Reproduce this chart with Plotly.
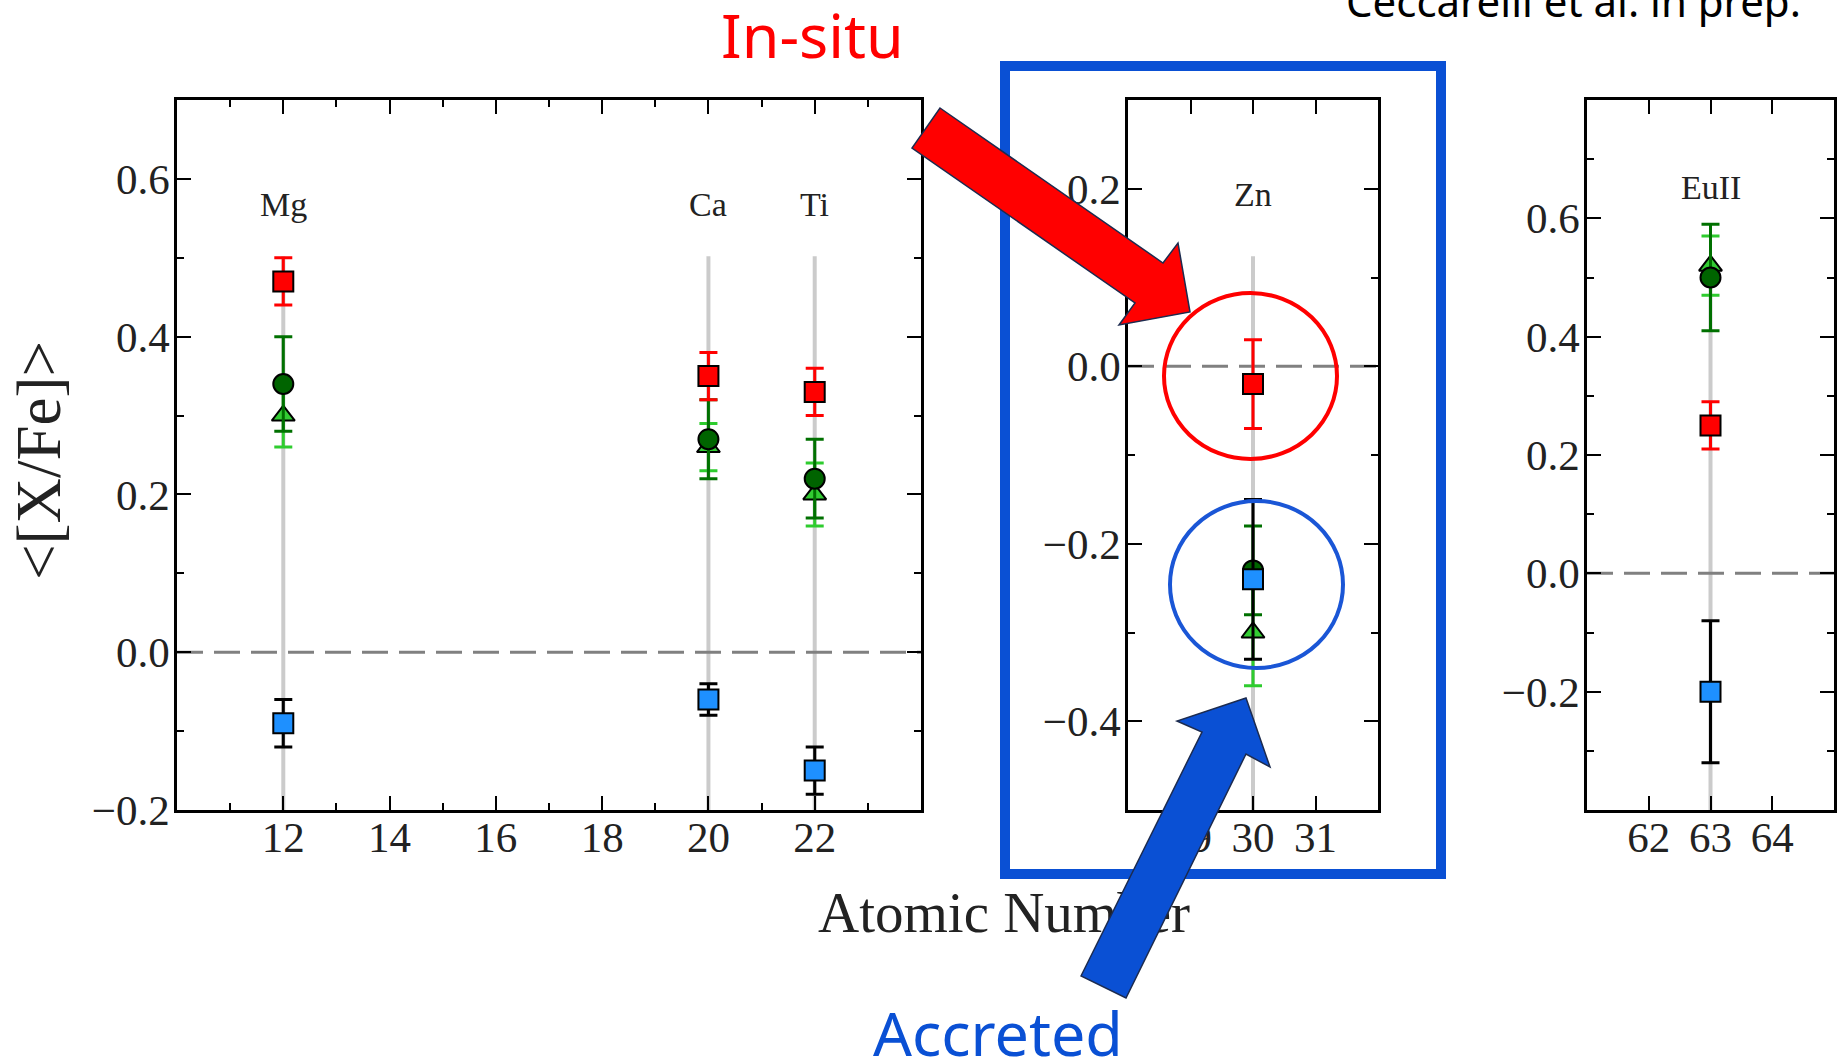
import plotly.graph_objects as go

# ---------------- data ----------------
Z = [12, 20, 22, 30, 63]
elements = ["Mg", "Ca", "Ti", "Zn", "EuII"]
panel_of = [0, 0, 0, 1, 2]

insitu_sq = [0.47, 0.35, 0.33, -0.02, 0.25]
insitu_sq_err = [0.03, 0.03, 0.03, 0.05, 0.04]

green_circ = [0.34, 0.27, 0.22, -0.23, 0.50]
green_circ_err = [0.06, 0.05, 0.05, 0.05, 0.09]

green_tri = [0.30, 0.26, 0.20, -0.30, 0.52]
green_tri_err = [0.04, 0.03, 0.04, 0.06, 0.05]

accreted_sq = [-0.09, -0.06, -0.15, -0.24, -0.20]
accreted_sq_err = [0.03, 0.02, 0.03, 0.09, 0.12]

# ---------------- layout config ----------------
W, H = 1847, 1059
TOP, BOT = 100, 810
panels = [
    dict(px=(177, 921), xr=[10, 24], xt=[12, 14, 16, 18, 20, 22], xm=[11, 13, 15, 17, 19, 21, 23],
         yr=[-0.2, 0.7], yt=[-0.2, 0.0, 0.2, 0.4, 0.6], ym=[-0.1, 0.1, 0.3, 0.5], lab=0.882),
    dict(px=(1128, 1378), xr=[28, 32], xt=[29, 30, 31], xm=[],
         yr=[-0.5, 0.3], yt=[-0.4, -0.2, 0.0, 0.2], ym=[-0.3, -0.1, 0.1], lab=0.896),
    dict(px=(1587, 1834), xr=[61, 65], xt=[62, 63, 64], xm=[],
         yr=[-0.4, 0.8], yt=[-0.2, 0.0, 0.2, 0.4, 0.6], ym=[-0.3, -0.1, 0.1, 0.3, 0.5, 0.7], lab=0.905),
]

SERIF = "Liberation Serif"
TXT = "#222222"
series = [
    dict(y=green_tri, e=green_tri_err, sym="triangle-up", fill="#33cc33", ecol="#2ecc2e"),
    dict(y=green_circ, e=green_circ_err, sym="circle", fill="#006400", ecol="#007000"),
    dict(y=insitu_sq, e=insitu_sq_err, sym="square", fill="#ff0000", ecol="#ff0000"),
    dict(y=accreted_sq, e=accreted_sq_err, sym="square", fill="#1e90ff", ecol="#000000"),
]

fig = go.Figure()
shapes = []
annotations = []
layout = {}

for p, cfg in enumerate(panels):
    ax = "" if p == 0 else str(p + 1)
    xa, ya = "x" + ax, "y" + ax
    idx = [i for i in range(len(Z)) if panel_of[i] == p]
    for s in series:
        fig.add_trace(go.Scatter(
            x=[Z[i] for i in idx], y=[s["y"][i] for i in idx],
            mode="markers", xaxis=xa, yaxis=ya, showlegend=False,
            marker=dict(symbol=s["sym"], size=20, color=s["fill"],
                        line=dict(color="black", width=2)),
            error_y=dict(type="data", array=[s["e"][i] for i in idx],
                         color=s["ecol"], thickness=3, width=9),
            cliponaxis=False,
        ))
    # gray vertical guide lines
    for i in idx:
        shapes.append(dict(type="line", xref=xa, yref=ya + " domain", x0=Z[i], x1=Z[i],
                           y0=0, y1=0.78, layer="below",
                           line=dict(color="rgba(185,185,185,0.75)", width=4)))
        annotations.append(dict(xref=xa, yref=ya + " domain", x=Z[i], y=cfg["lab"],
                                text=elements[i], showarrow=False,
                                font=dict(family=SERIF, size=34, color=TXT)))
    # dashed zero line
    shapes.append(dict(type="line", xref=xa + " domain", yref=ya, x0=0, x1=1, y0=0, y1=0,
                       layer="below", line=dict(color="#808080", width=3, dash="26px,11px")))

    dom_x = [cfg["px"][0] / W, cfg["px"][1] / W]
    dom_y = [1 - BOT / H, 1 - TOP / H]
    common = dict(showline=True, linecolor="black", linewidth=2.5, mirror="allticks",
                  ticks="inside", ticklen=14, tickwidth=2, tickcolor="black",
                  showgrid=False, zeroline=False, fixedrange=True, automargin=False,
                  tickfont=dict(family=SERIF, size=43, color=TXT))
    layout["xaxis" + ax] = dict(common, domain=dom_x, range=cfg["xr"], anchor=ya,
                                tickmode="array", tickvals=cfg["xt"],
                                ticktext=[str(v) for v in cfg["xt"]], ticklabelstandoff=-12,
                                minor=dict(tickmode="array", tickvals=cfg["xm"], ticks="inside",
                                           ticklen=7, tickwidth=2, tickcolor="black",
                                           showgrid=False))
    layout["yaxis" + ax] = dict(common, domain=dom_y, range=cfg["yr"], anchor=xa,
                                tickmode="array", tickvals=cfg["yt"], tickformat=".1f",
                                ticklabelstandoff=-4,
                                minor=dict(tickmode="array", tickvals=cfg["ym"], ticks="inside",
                                           ticklen=7, tickwidth=2, tickcolor="black",
                                           showgrid=False))

# overlay pixel-coordinate axes for the decorations
layout["xaxis4"] = dict(domain=[0, 1], range=[0, W], visible=False, fixedrange=True,
                        anchor="y4", automargin=False)
layout["yaxis4"] = dict(domain=[0, 1], range=[H, 0], visible=False, fixedrange=True,
                        anchor="x4", automargin=False)

fig.add_trace(go.Scatter(x=[1004], y=[918], mode="text", text=["Atomic Number"],
                         textfont=dict(family=SERIF, size=57, color=TXT),
                         xaxis="x4", yaxis="y4", showlegend=False, hoverinfo="skip"))

BLUE = "#0a50d4"
NAVY = "#1c2b4f"
shapes += [
    dict(type="rect", xref="x4", yref="y4", x0=1005, x1=1441, y0=66, y1=874,
         line=dict(color=BLUE, width=10), layer="above"),
    dict(type="circle", xref="x4", yref="y4", x0=1164, x1=1337, y0=293, y1=459,
         line=dict(color="#ff0000", width=4), layer="above"),
    dict(type="circle", xref="x4", yref="y4", x0=1170, x1=1343, y0=501, y1=668,
         line=dict(color="#1a56d6", width=4), layer="above"),
    dict(type="path", xref="x4", yref="y4",
         path="M940,108 L1163,263 L1178,243 L1190,312 L1119,325 L1135,303 L912,148 Z",
         fillcolor="#ff0000", line=dict(color=NAVY, width=1.5), layer="above"),
    dict(type="path", xref="x4", yref="y4",
         path="M1081,976 L1202,732 L1177,721 L1246,698 L1270,767 L1246,754 L1126,998 Z",
         fillcolor=BLUE, line=dict(color=NAVY, width=1.5), layer="above"),
]

annotations += [
    dict(xref="x4", yref="y4", x=39, y=461, text="&lt;[X/Fe]&gt;", textangle=-90,
         showarrow=False, font=dict(family=SERIF, size=63, color=TXT)),
    dict(xref="x4", yref="y4", x=812, y=34, text="In-situ", showarrow=False,
         font=dict(family="Noto Sans", size=61, color="#ff0000")),
    dict(xref="x4", yref="y4", x=998, y=1032, text="Accreted", showarrow=False,
         font=dict(family="Noto Sans", size=61, color=BLUE)),
    dict(xref="x4", yref="y4", x=1573, y=0.5, text="Ceccarelli et al. in prep.", showarrow=False,
         font=dict(family="Noto Sans", size=42, color="black")),
]

fig.update_layout(
    width=W, height=H, margin=dict(l=0, r=0, t=0, b=0, autoexpand=False),
    paper_bgcolor="white", plot_bgcolor="rgba(0,0,0,0)",
    shapes=shapes, annotations=annotations, **layout,
)

page_fix = (
    "document.documentElement.style.margin='0';document.body.style.margin='0';"
    "document.documentElement.style.overflow='hidden';document.body.style.overflow='hidden';"
)
fig.write_html("out.html", post_script=page_fix)
